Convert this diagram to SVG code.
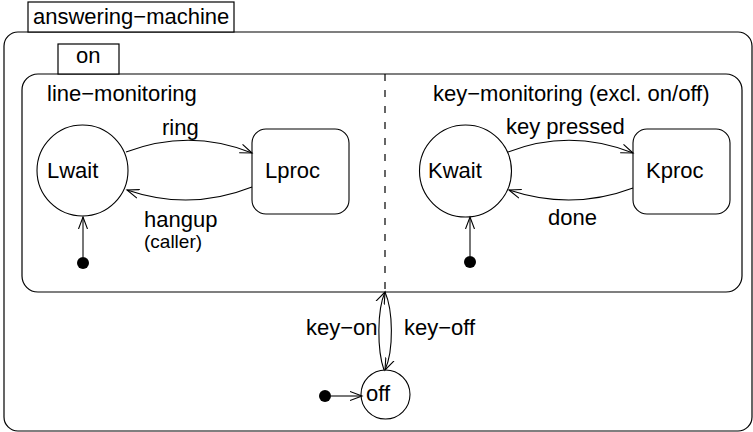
<svg xmlns="http://www.w3.org/2000/svg" width="753" height="432" viewBox="0 0 753 432">
  <defs>
    <style>
      .box { fill: #ffffff; stroke: #000000; stroke-width: 1.2; }
      .st { fill: #ffffff; stroke: #000000; stroke-width: 1.1; }
      .edge { fill: none; stroke: #000000; stroke-width: 1.1; marker-end: url(#open); }
      .init { fill: none; stroke: #555555; stroke-width: 1.6; marker-end: url(#open); }
      .dot { fill: #000000; }
      .t { font-family: "Liberation Sans", Arial, Helvetica, sans-serif; font-size: 22px; fill: #000000; }
      .s { font-family: "Liberation Sans", Arial, Helvetica, sans-serif; font-size: 19px; fill: #000000; }
    </style>
    <marker id="open" markerUnits="userSpaceOnUse" markerWidth="14" markerHeight="12" refX="12" refY="5" orient="auto" viewBox="0 0 14 10">
      <path d="M0,0.5 L12,5 L0,9.5" fill="none" stroke="#000000" stroke-width="1.1"/>
    </marker>
  </defs>

  <g id="answering-machine">
    <rect class="box" x="4" y="32" width="748" height="399" rx="14" ry="14"/>
    <rect class="box" x="28" y="2" width="206" height="30"/>
    <text class="t" x="33" y="24">answering−machine</text>
  </g>

  <g id="on">
    <rect class="box" x="22" y="74" width="720" height="218" rx="16" ry="16"/>
    <rect class="box" x="58" y="44" width="61" height="30"/>
    <text class="t" x="76" y="63">on</text>
    <line x1="385" y1="74" x2="385" y2="292" stroke="#000000" stroke-width="1.2" stroke-dasharray="7,9"/>
    <text class="t" x="47" y="101">line−monitoring</text>
    <text class="t" x="433" y="101">key−monitoring (excl. on/off)</text>
  </g>

  <g id="Lwait">
    <circle class="st" cx="82.5" cy="170.5" r="45.5"/>
    <text class="t" x="47" y="178">Lwait</text>
  </g>
  <g id="Lproc">
    <rect class="st" x="252" y="129" width="97" height="85" rx="14" ry="14"/>
    <text class="t" x="265" y="178">Lproc</text>
  </g>
  <g id="Kwait">
    <circle class="st" cx="465.5" cy="171" r="46"/>
    <text class="t" x="428" y="178">Kwait</text>
  </g>
  <g id="Kproc">
    <rect class="st" x="633" y="129" width="97" height="85" rx="14" ry="14"/>
    <text class="t" x="646" y="178">Kproc</text>
  </g>
  <g id="off">
    <circle class="st" cx="385.5" cy="394.5" r="24.5"/>
    <text class="t" x="366" y="401">off</text>
  </g>
  <g id="init-L"><circle class="dot" cx="83" cy="263" r="6"/></g>
  <g id="init-K"><circle class="dot" cx="470" cy="262" r="6"/></g>
  <g id="init-off"><circle class="dot" cx="325" cy="396" r="6"/></g>

  <g id="connectors">
    <path class="edge" d="M126,152 Q190,128 252,153"/>
    <path class="edge" d="M252,187 Q190,211.5 127,190"/>
    <path class="edge" d="M508,152 Q570,128 633,153"/>
    <path class="edge" d="M633,188 Q572,211 509,190"/>
    <path class="edge" d="M384,370 C377,350 377,310 385,292"/>
    <path class="edge" d="M385,292 C393,310 394,350 385,370"/>
    <path class="init" d="M83,257 L83,217"/>
    <path class="init" d="M470,256 L470,217"/>
    <path class="init" d="M331,396 L362,396"/>
    <text class="t" x="162" y="135">ring</text>
    <text class="t" x="144" y="227">hangup</text>
    <text class="s" x="144" y="248">(caller)</text>
    <text class="t" x="506" y="134">key pressed</text>
    <text class="t" x="548" y="225">done</text>
    <text class="t" x="306" y="335">key−on</text>
    <text class="t" x="404" y="335">key−off</text>
  </g>
</svg>
